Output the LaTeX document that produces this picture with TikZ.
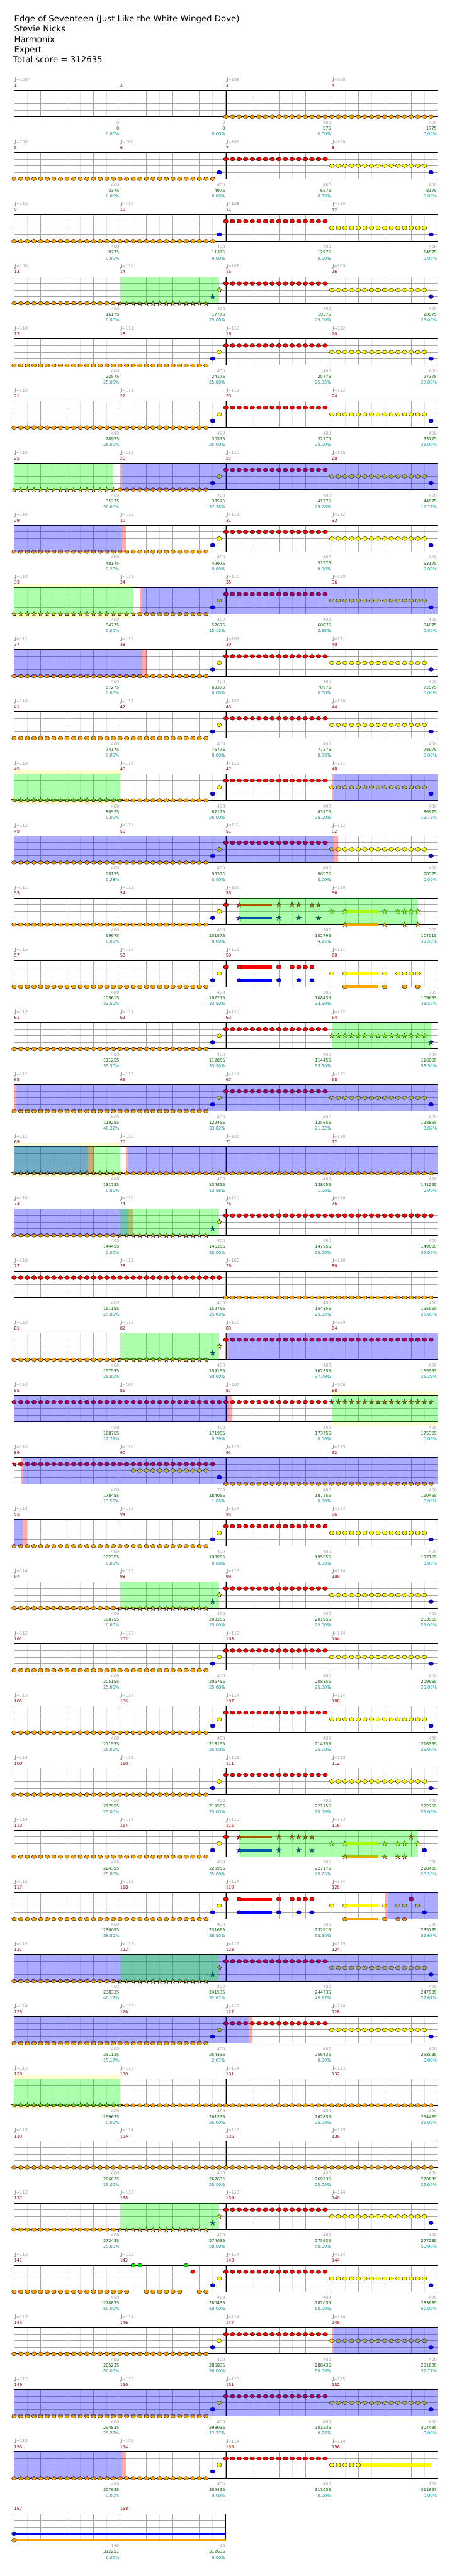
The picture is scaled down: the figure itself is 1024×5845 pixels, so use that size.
\documentclass[tikz,border=0pt]{standalone}
\usepackage{fontspec}
\setmainfont{DejaVu Sans}

\definecolor{nOrange}{RGB}{255,165,0}
\definecolor{nRed}{RGB}{255,0,0}
\definecolor{nYellow}{RGB}{255,255,0}
\definecolor{nBlue}{RGB}{0,0,255}
\definecolor{nGreen}{RGB}{0,230,0}
\definecolor{odGreen}{RGB}{0,255,0}
\definecolor{actBlue}{RGB}{0,0,255}
\definecolor{actRed}{RGB}{255,0,0}
\definecolor{bandYellow}{RGB}{255,255,210}
\definecolor{lblGray}{RGB}{160,160,160}
\definecolor{barRed}{RGB}{153,0,0}
\definecolor{scoreGreen}{RGB}{0,100,0}
\definecolor{pctTeal}{RGB}{0,153,153}
\definecolor{laneGray}{RGB}{165,165,165}
\definecolor{eighthGray}{RGB}{228,228,228}

% top of the grid of chart row #1
\newcommand\setrow[1]{\pgfmathsetmacro\yy{205+141*(#1-1)}}

% empty grid: row, number of bars
\newcommand\grid[2]{%
  \setrow{#1}%
  \pgfmathsetmacro\xe{32+240*#2}%
  \pgfmathtruncatemacro\ne{8*#2-1}%
  \pgfmathtruncatemacro\nb{4*#2-1}%
  \pgfmathtruncatemacro\nm{#2-1}%
  \fill[white] (32,\yy) rectangle (\xe,\yy+60);
  \foreach \i in {1,3,...,\ne} \draw[eighthline] ({32+30*\i},\yy) -- ++(0,60);
  \foreach \i in {1,...,\nb} \draw[beatline] ({32+60*\i},\yy) -- ++(0,60);
  \foreach \l in {1,2,3} \draw[laneline] (32,\yy+15*\l) -- (\xe,\yy+15*\l);
  \foreach \i in {1,...,\nm} \draw[barline] ({32+240*\i},\yy) -- ++(0,60);
  \draw[framebox] (32,\yy) rectangle (\xe,\yy+60);
}

% gems: row, lane, colour, positions (sixteenths)
\newcommand\notes[4]{%
  \setrow{#1}%
  \foreach \k in {#4}
    \filldraw[gemline, fill=#3] ({32+15*\k},{\yy+15*#2}) ellipse [x radius=5.5pt, y radius=4.2pt];
}
\newcommand\starpath{(0,-6) -- (1.35,-1.85) -- (5.7,-1.85) -- (2.2,0.7) -- (3.5,4.85) -- (0,2.3)
  -- (-3.5,4.85) -- (-2.2,0.7) -- (-5.7,-1.85) -- (-1.35,-1.85) -- cycle}
\newcommand\stars[4]{%
  \setrow{#1}%
  \foreach \k in {#4}
    \filldraw[gemline, fill=#3, shift={({32+15*\k},{\yy+15*#2})}] \starpath;
}
% sustain: row, lane, colour, from, to
\newcommand\sus[5]{%
  \setrow{#1}%
  \fill[#3] ({32+15*#4},{\yy+15*#2-3}) rectangle ({32+15*#5},{\yy+15*#2+3});
}
% overdrive / activation shading: row, colour, from x, to x
\newcommand\zone[4]{%
  \setrow{#1}%
  \fill[#2, fill opacity=0.33] (#3,\yy) rectangle (#4,\yy+60);
}
\newcommand\band[3]{\setrow{#1}\fill[bandYellow] (#2,\yy-9) rectangle (#3,\yy+69);}

\newcommand\lefthalf[1]{\notes{#1}{4}{nOrange}{0,...,29}\notes{#1}{3}{nBlue}{30}\notes{#1}{2}{nYellow}{31}}
\newcommand\righthalf[1]{\notes{#1}{1}{nRed}{32,...,47}\notes{#1}{2}{nYellow}{48,...,62}\notes{#1}{3}{nBlue}{63}}
\newcommand\starhalf[1]{\notes{#1}{4}{nOrange}{0,...,15}\stars{#1}{4}{nOrange}{16,...,29}%
  \stars{#1}{3}{nBlue}{30}\stars{#1}{2}{nYellow}{31}}

% texts of one row: row, four tempos (0 = none), value/score/percent per bar
\newcommand\bars[6]{%
  \setrow{#1}%
  \foreach \bpm [count=\m from 0] in {#2,#3,#4,#5}{
    \pgfmathtruncatemacro\bn{4*(#1-1)+\m+1}
    \node[barno] (bar\bn) at ({32+240*\m},\yy-11) {\bn};
    \ifnum\bpm>0
      \fill[lblGray] ({33.6+240*\m},\yy-20) ellipse [x radius=1.9pt, y radius=1.5pt];
      \draw[lblGray, line width=0.7pt] ({35.3+240*\m},\yy-20) -- ++(0,-9);
      \node[tempo] (bpm\bn) at ({36.6+240*\m},\yy-24) {=\bpm};
    \fi
  }
  \foreach \tv/\tot/\pc [count=\m] in {#6}{
    \pgfmathtruncatemacro\bn{4*(#1-1)+\m}
    \node[noteval] (val\bn) at ({30.5+240*\m},\yy+73) {\tv};
    \node[score] (sc\bn) at ({30.5+240*\m},\yy+86) {\tot};
    \node[pct] (pc\bn) at ({30.5+240*\m},\yy+99) {\pc\%};
  }
}

\begin{document}
\begin{tikzpicture}[x=1pt, y=-1pt,
    eighthline/.style={eighthGray, line width=1pt},
    beatline/.style={laneGray, line width=1pt},
    laneline/.style={laneGray, line width=1.2pt},
    barline/.style={black, line width=0.8pt},
    framebox/.style={black, line width=1.3pt},
    gemline/.style={draw=black, line width=0.5pt},
    labelfont/.style={font=\fontsize{9.5}{11}\selectfont, inner sep=0pt},
    barno/.style={labelfont, anchor=west, text=barRed},
    tempo/.style={labelfont, anchor=west, text=lblGray},
    noteval/.style={labelfont, anchor=east, text=lblGray},
    score/.style={labelfont, anchor=east, text=scoreGreen},
    pct/.style={labelfont, anchor=east, text=pctTeal},
    head/.style={font=\fontsize{19}{23}\selectfont, anchor=base west, inner sep=0pt}]
  \useasboundingbox (0,0) rectangle (1024,5845);

  % Song header
  \node[head] (song) at (32,49) {Edge of Seventeen (Just Like the White Winged Dove)};
  \node[head] (artist) at (32,72.5) {Stevie Nicks};
  \node[head] (charter) at (32,96) {Harmonix};
  \node[head] (diff) at (32,119) {Expert};
  \node[head] (total) at (30,142) {Total score = 312635};

  % Rows 1-13
  \grid{1}{4}\notes{1}{4}{nOrange}{32,...,63}
  \foreach \r in {2,3}{\grid{\r}{4}\notes{\r}{4}{nOrange}{0,...,30}\notes{\r}{3}{nBlue}{31}\righthalf{\r}}
  \foreach \r in {4,25,35}{\grid{\r}{4}\starhalf{\r}\righthalf{\r}\zone{\r}{odGreen}{272}{497}}
  \foreach \r in {5,6,11,26,27,28}{\grid{\r}{4}\lefthalf{\r}\righthalf{\r}}
  \grid{7}{4}\stars{7}{4}{nOrange}{0,...,15}\notes{7}{4}{nOrange}{16,...,29}
  \notes{7}{3}{nBlue}{30}\notes{7}{2}{nYellow}{31}\righthalf{7}
  \zone{7}{odGreen}{32}{257}\zone{7}{actRed}{272}{276.5}\zone{7}{actBlue}{276.5}{992}
  \grid{8}{4}\lefthalf{8}\righthalf{8}\zone{8}{actBlue}{32}{276.5}\zone{8}{actRed}{276.5}{286}
  \band{9}{32}{302}\grid{9}{4}\stars{9}{4}{nOrange}{0,...,18}\notes{9}{4}{nOrange}{19,...,29}
  \notes{9}{3}{nBlue}{30}\notes{9}{2}{nYellow}{31}\righthalf{9}
  \zone{9}{odGreen}{32}{302}\zone{9}{actRed}{317}{321.5}\zone{9}{actBlue}{321.5}{992}
  \grid{10}{4}\lefthalf{10}\righthalf{10}\zone{10}{actBlue}{32}{322}\zone{10}{actRed}{322}{332}
  \band{12}{32}{272}\grid{12}{4}\stars{12}{4}{nOrange}{0,...,16}\notes{12}{4}{nOrange}{17,...,29}
  \notes{12}{3}{nBlue}{30}\notes{12}{2}{nYellow}{31}\righthalf{12}
  \zone{12}{odGreen}{32}{272}\zone{12}{actRed}{752}{756.5}\zone{12}{actBlue}{756.5}{992}
  \grid{13}{4}\lefthalf{13}\righthalf{13}\zone{13}{actBlue}{32}{756.5}\zone{13}{actRed}{756.5}{766}

  % Rows 14-24
  \grid{14}{4}
  \sus{14}{1}{nRed}{34}{39}\sus{14}{3}{nBlue}{34}{39}\sus{14}{2}{nYellow}{50}{55}\sus{14}{4}{nOrange}{50}{55}
  \notes{14}{4}{nOrange}{0,...,29}\notes{14}{3}{nBlue}{30}\notes{14}{2}{nYellow}{31}\notes{14}{1}{nRed}{32}
  \stars{14}{1}{nRed}{34,40,42,43,45,46}\stars{14}{3}{nBlue}{34,40,43,46}
  \stars{14}{2}{nYellow}{48,50,56,58,59,60,61}\stars{14}{4}{nOrange}{50,56,59,61}
  \zone{14}{odGreen}{542}{947}
  \grid{15}{4}
  \sus{15}{1}{nRed}{34}{39}\sus{15}{3}{nBlue}{34}{39}\sus{15}{2}{nYellow}{50}{55}\sus{15}{4}{nOrange}{50}{55}
  \notes{15}{4}{nOrange}{0,...,29,50,56,59,61}\notes{15}{3}{nBlue}{30,34,40,43,45}
  \notes{15}{2}{nYellow}{31,48,50,56,58,59,60,61}\notes{15}{1}{nRed}{32,34,40,42,43,44,45}
  \grid{16}{4}\lefthalf{16}\notes{16}{1}{nRed}{32,...,47}\stars{16}{2}{nYellow}{48,...,62}\stars{16}{3}{nBlue}{63}
  \zone{16}{odGreen}{752}{977}
  \grid{17}{4}\lefthalf{17}\righthalf{17}\zone{17}{actRed}{32}{37}\zone{17}{actBlue}{37}{992}
  \band{18}{32}{272}\grid{18}{4}\stars{18}{4}{nOrange}{0,...,16}\notes{18}{4}{nOrange}{17,...,63}
  \zone{18}{odGreen}{32}{272}\zone{18}{actBlue}{32}{200}\zone{18}{actRed}{200}{212}
  \zone{18}{actRed}{286}{291.5}\zone{18}{actBlue}{291.5}{992}
  \grid{19}{4}\starhalf{19}\notes{19}{1}{nRed}{32,...,63}
  \zone{19}{actBlue}{32}{291.5}\zone{19}{actRed}{291.5}{302}\zone{19}{odGreen}{272}{497}
  \grid{20}{4}\notes{20}{1}{nRed}{0,...,31}\notes{20}{4}{nOrange}{32,...,63}
  \grid{21}{4}\starhalf{21}\notes{21}{1}{nRed}{32,...,63}
  \zone{21}{odGreen}{272}{497}\zone{21}{actRed}{512}{516.5}\zone{21}{actBlue}{516.5}{992}
  \band{22}{752}{992}\grid{22}{4}\notes{22}{1}{nRed}{0,...,47}\stars{22}{1}{nRed}{48,...,63}
  \zone{22}{actBlue}{32}{516.5}\zone{22}{actRed}{516.5}{526.5}\zone{22}{odGreen}{752}{992}
  \grid{23}{4}\stars{23}{1}{nRed}{0}\notes{23}{1}{nRed}{1,...,30}\notes{23}{2}{nYellow}{18,...,29}
  \notes{23}{3}{nBlue}{31}\notes{23}{4}{nOrange}{32,...,63}
  \zone{23}{actRed}{46.5}{51.5}\zone{23}{actBlue}{51.5}{992}
  \grid{24}{4}\lefthalf{24}\righthalf{24}\zone{24}{actBlue}{32}{51.5}\zone{24}{actRed}{51.5}{61.5}

  % Rows 29-40
  \grid{29}{4}
  \sus{29}{1}{nRed}{34}{39}\sus{29}{3}{nBlue}{34}{39}\sus{29}{2}{nYellow}{50}{55}\sus{29}{4}{nOrange}{50}{55}
  \notes{29}{4}{nOrange}{0,...,29}\stars{29}{4}{nOrange}{50,56,58,59}
  \notes{29}{3}{nBlue}{30,62}\stars{29}{3}{nBlue}{34,40,43,45}
  \notes{29}{2}{nYellow}{31}\stars{29}{2}{nYellow}{48,50,56,58,59,61}
  \notes{29}{1}{nRed}{32}\stars{29}{1}{nRed}{34,40,42,43,44,45,60}
  \zone{29}{odGreen}{542}{947}
  \grid{30}{4}
  \sus{30}{1}{nRed}{34}{39}\sus{30}{3}{nBlue}{34}{39}\sus{30}{2}{nYellow}{50}{55}\sus{30}{4}{nOrange}{50}{55}
  \notes{30}{4}{nOrange}{0,...,29,50,56,58,59}\notes{30}{3}{nBlue}{30,34,40,43,45,62}
  \notes{30}{2}{nYellow}{31,48,50,56,58,59,61}\notes{30}{1}{nRed}{32,34,40,42,43,44,45,60}
  \zone{30}{actRed}{872}{879}\zone{30}{actBlue}{879}{992}
  \grid{31}{4}\starhalf{31}\righthalf{31}\zone{31}{actBlue}{32}{992}\zone{31}{odGreen}{272}{497}
  \grid{32}{4}\lefthalf{32}\righthalf{32}\zone{32}{actBlue}{32}{564}\zone{32}{actRed}{564}{572}
  \band{33}{32}{272}\grid{33}{4}\stars{33}{4}{nOrange}{0,...,16}\notes{33}{4}{nOrange}{17,...,63}
  \zone{33}{odGreen}{32}{272}
  \grid{34}{4}\notes{34}{4}{nOrange}{0,...,63}
  \grid{36}{4}\notes{36}{4}{nOrange}{0,...,17}\notes{36}{4}{nOrange}{20,...,25}\notes{36}{4}{nOrange}{28,29}
  \notes{36}{0}{nGreen}{18,19,26}\notes{36}{1}{nRed}{27}\notes{36}{3}{nBlue}{30}\notes{36}{2}{nYellow}{31}
  \righthalf{36}
  \grid{37}{4}\lefthalf{37}\righthalf{37}\zone{37}{actRed}{752}{756.5}\zone{37}{actBlue}{756.5}{992}
  \grid{38}{4}\lefthalf{38}\righthalf{38}\zone{38}{actBlue}{32}{992}
  \grid{39}{4}\lefthalf{39}\notes{39}{1}{nRed}{32,...,47}\sus{39}{2}{nYellow}{52}{63}\notes{39}{2}{nYellow}{48,...,52}
  \zone{39}{actBlue}{32}{276.5}\zone{39}{actRed}{276.5}{286}
  \grid{40}{2}\sus{40}{3}{nBlue}{0}{32}\sus{40}{4}{nOrange}{0}{32}\notes{40}{3}{nBlue}{0}\notes{40}{4}{nOrange}{0}

  % Tempos, bar numbers and scores
  \bars{1}{108}{0}{108}{108}{0/0/0.00,0/0/0.00,400/575/0.00,400/1775/0.00}
  \bars{2}{108}{108}{108}{109}{400/3375/0.00,400/4975/0.00,400/6575/0.00,400/8175/0.00}
  \bars{3}{110}{110}{108}{110}{400/9775/0.00,400/11375/0.00,400/12975/0.00,400/14575/0.00}
  \bars{4}{109}{110}{108}{109}{400/16175/0.00,400/17775/25.00,400/19375/25.00,400/20975/25.00}
  \bars{5}{110}{111}{110}{112}{400/22575/25.00,400/24175/25.00,400/25775/25.00,400/27375/25.00}
  \bars{6}{110}{111}{111}{112}{400/28975/25.00,400/30575/25.00,400/32175/25.00,400/33775/25.00}
  \bars{7}{110}{111}{110}{110}{400/35375/50.00,400/38575/37.78,400/41775/25.28,400/44975/12.78}
  \bars{8}{110}{112}{111}{112}{400/48175/0.28,400/49975/0.00,400/51575/0.00,400/53175/0.00}
  \bars{9}{110}{111}{110}{110}{400/54775/0.00,400/57675/15.12,400/60875/2.62,400/64075/0.00}
  \bars{10}{111}{112}{108}{111}{400/67275/0.00,400/69375/0.00,400/70975/0.00,400/72575/0.00}
  \bars{11}{110}{111}{109}{110}{400/74175/0.00,400/75775/0.00,400/77375/0.00,400/78975/0.00}
  \bars{12}{110}{110}{112}{111}{400/80575/0.00,400/82175/25.00,400/83775/25.00,400/86975/12.78}
  \bars{13}{112}{111}{110}{112}{400/90175/0.28,400/93375/0.00,400/96575/0.00,400/98375/0.00}
  \bars{14}{111}{111}{109}{110}{400/99975/0.00,400/101575/0.00,305/102795/4.25,305/104015/33.50}
  \bars{15}{112}{112}{111}{111}{400/105615/33.50,400/107215/33.50,305/108435/33.50,305/109655/33.50}
  \bars{16}{113}{111}{110}{112}{400/111255/33.50,400/112855/33.50,400/114455/33.50,400/116055/58.50}
  \bars{17}{111}{112}{111}{112}{400/119255/46.32,400/122455/33.82,400/125655/21.32,400/128855/8.82}
  \bars{18}{111}{112}{109}{110}{400/131755/0.00,400/134855/13.56,400/138055/1.06,400/141255/0.00}
  \bars{19}{110}{110}{110}{110}{400/144455/0.00,400/146355/25.00,400/147955/25.00,400/149555/25.00}
  \bars{20}{110}{111}{108}{110}{400/151155/25.00,400/152755/25.00,400/154355/25.00,400/155955/25.00}
  \bars{21}{110}{111}{110}{109}{400/157555/25.00,400/159155/50.00,400/162355/37.79,400/165555/25.29}
  \bars{22}{110}{109}{109}{108}{400/168755/12.79,400/171955/0.29,400/173755/0.00,400/175355/0.00}
  \bars{23}{110}{110}{113}{113}{400/178455/13.56,700/184055/1.06,400/187255/0.00,400/190455/0.00}
  \bars{24}{114}{115}{114}{114}{400/192355/0.00,400/193955/0.00,400/195555/0.00,400/197155/0.00}
  \bars{25}{114}{112}{113}{114}{400/198755/0.00,400/200355/25.00,400/201955/25.00,400/203555/25.00}
  \bars{26}{112}{113}{112}{114}{400/205155/25.00,400/206755/25.00,400/208355/25.00,400/209955/25.00}
  \bars{27}{113}{114}{114}{114}{400/211555/25.00,400/213155/25.00,400/214755/25.00,400/216355/25.00}
  \bars{28}{114}{113}{113}{113}{400/217955/25.00,400/219555/25.00,400/221155/25.00,400/222755/25.00}
  \bars{29}{114}{114}{113}{113}{400/224355/25.00,400/225955/25.00,305/227175/29.25,330/228495/58.50}
  \bars{30}{115}{115}{114}{114}{400/230095/58.50,400/231695/58.50,305/232915/58.50,330/235135/52.67}
  \bars{31}{115}{113}{112}{113}{400/238335/40.17,400/241535/52.67,400/244735/40.17,400/247935/27.67}
  \bars{32}{114}{113}{112}{114}{400/251135/15.17,400/254335/2.67,400/256435/0.00,400/258035/0.00}
  \bars{33}{113}{113}{114}{113}{400/259635/0.00,400/261235/25.00,400/262835/25.00,400/264435/25.00}
  \bars{34}{113}{114}{113}{113}{400/266035/25.00,400/267635/25.00,400/269235/25.00,400/270835/25.00}
  \bars{35}{113}{113}{113}{114}{400/272435/25.00,400/274035/50.00,400/275635/50.00,400/277235/50.00}
  \bars{36}{113}{112}{114}{114}{400/278835/50.00,400/280435/50.00,400/282035/50.00,400/283635/50.00}
  \bars{37}{113}{114}{114}{114}{400/285235/50.00,400/286835/50.00,400/288435/50.00,400/291635/37.77}
  \bars{38}{113}{115}{113}{115}{400/294835/25.27,400/298035/12.77,400/301235/0.27,400/304435/0.00}
  \bars{39}{115}{115}{114}{114}{400/307635/0.00,400/309435/0.00,400/311035/0.00,158/311667/0.00}
  \setrow{40}
  \node[barno] (bar157) at (32,\yy-11) {157};
  \node[barno] (bar158) at (272,\yy-11) {158};
  \node[noteval] (val157) at (270.5,\yy+73) {146};
  \node[score] (sc157) at (270.5,\yy+86) {312251};
  \node[pct] (pc157) at (270.5,\yy+99) {0.00\%};
  \node[noteval] (val158) at (510.5,\yy+73) {96};
  \node[score] (sc158) at (510.5,\yy+86) {312635};
  \node[pct] (pc158) at (510.5,\yy+99) {0.00\%};
\end{tikzpicture}
\end{document}
